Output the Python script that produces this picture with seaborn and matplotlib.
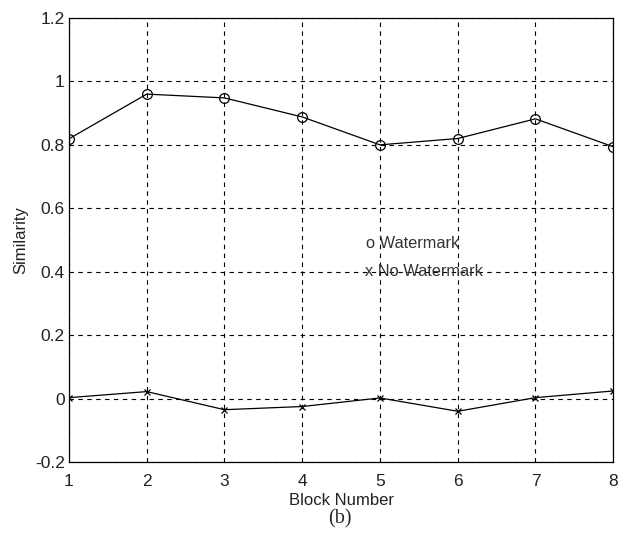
import matplotlib
matplotlib.use("Agg")
import matplotlib.pyplot as plt
import seaborn as sns
import pandas as pd

# Similarity per block, with and without an embedded watermark
blocks = [1, 2, 3, 4, 5, 6, 7, 8]
watermark = [0.819, 0.960, 0.948, 0.888, 0.800, 0.820, 0.882, 0.794]
no_watermark = [0.003, 0.022, -0.035, -0.025, 0.002, -0.040, 0.003, 0.024]
y_ticks = [-0.2, 0, 0.2, 0.4, 0.6, 0.8, 1, 1.2]
y_tick_labels = ["-0.2", "0", "0.2", "0.4", "0.6", "0.8", "1", "1.2"]

df_w = pd.DataFrame({"block": blocks, "sim": watermark})
df_n = pd.DataFrame({"block": blocks, "sim": no_watermark})

sns.set_style("white")
plt.rcParams["font.family"] = ["Liberation Sans", "DejaVu Sans"]

fig = plt.figure(figsize=(6.27, 5.4), dpi=100)
ax = fig.add_axes([0.110, 0.1444, 0.868, 0.8223])

sns.lineplot(data=df_w, x="block", y="sim", ax=ax, color="black", lw=0.9,
             marker="o", markersize=7, markerfacecolor="none",
             markeredgecolor="black", markeredgewidth=0.9, zorder=3)
sns.lineplot(data=df_n, x="block", y="sim", ax=ax, color="black", lw=0.9,
             marker="x", markersize=5, markeredgecolor="black",
             markeredgewidth=0.9, zorder=3)

ax.set_xlim(1, 8)
ax.set_ylim(-0.2, 1.2)
ax.set_xticks(blocks)
ax.set_xticklabels([str(b) for b in blocks])
ax.set_yticks(y_ticks)
ax.set_yticklabels(y_tick_labels)

ax.grid(True, color="black", linestyle=(0, (4, 4)), linewidth=0.8)
ax.set_axisbelow(True)
for s in ax.spines.values():
    s.set_color("black")
    s.set_linewidth(0.9)
    s.set_visible(True)
ax.tick_params(axis="both", direction="in", length=4, labelsize=12.5,
               colors="#222222")
ax.tick_params(axis="x", pad=8.5)
ax.tick_params(axis="y", pad=3)

ax.set_xlabel("Block Number", fontsize=12, labelpad=3, color="#222222")
ax.set_ylabel("Similarity", fontsize=12, labelpad=5, color="#222222")

ax.text(4.82, 0.49, "o Watermark", fontsize=11.8, va="center", ha="left",
        color="#333333")
ax.text(4.81, 0.40, "x No Watermark", fontsize=11.8, va="center", ha="left",
        color="#333333")

fig.text(0.542, 0.04, "(b)", fontsize=14.5, ha="center", va="center",
         family=["Liberation Serif", "DejaVu Serif"])

fig.savefig("out.png", dpi=100, facecolor="white")
